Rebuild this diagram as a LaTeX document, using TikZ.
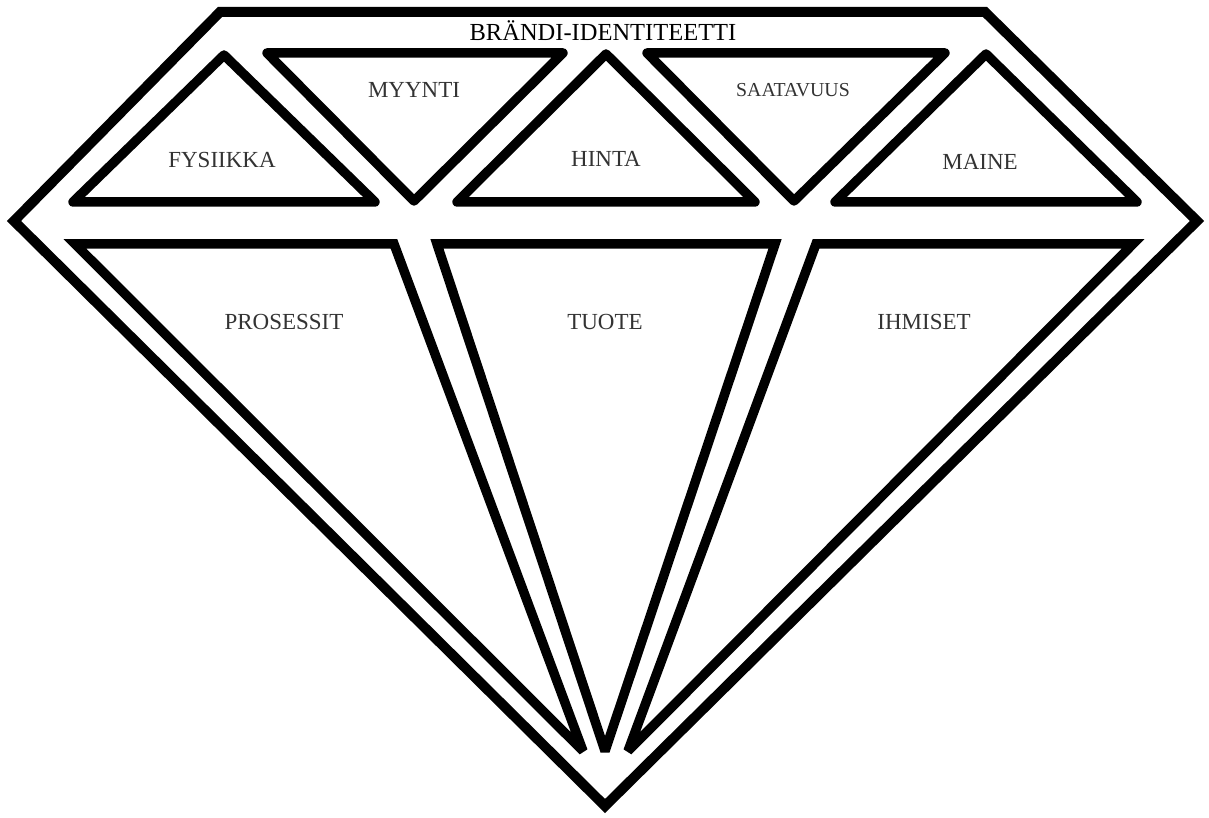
\documentclass[tikz,border=0pt]{standalone}
\usepackage{fontspec}
\setmainfont{Liberation Serif}

\begin{document}
\begin{tikzpicture}[x=1pt, y=-1pt,
    outline/.style={line width=10pt, line join=miter},
    facet/.style={line width=9.5pt, line join=round},
    deepfacet/.style={line width=9.5pt, line join=miter, miter limit=3},
    lbl/.style={font=\fontsize{23}{26}\selectfont, text=black!80, anchor=base, inner sep=0pt},
]
\useasboundingbox (0,0) rectangle (1209,818);

% Outer diamond
\draw[outline] (220,12) -- (985,12) -- (1197,221) -- (605,806) -- (14,221) -- cycle;
\node[lbl, text=black, font=\fontsize{24.5}{28}\selectfont] (brand) at (603,41) {BRÄNDI-IDENTITEETTI};

% --- Crown facets ---
\draw[facet] (224,55) -- (375,202) -- (73,202) -- cycle;
\node[lbl] (fysiikka) at (222,168) {FYSIIKKA};

\draw[facet] (267,53) -- (563,53) -- (414,201) -- cycle;
\node[lbl] (myynti) at (414,98) {MYYNTI};

\draw[facet] (606,54) -- (755,202) -- (457,202) -- cycle;
\node[lbl] (hinta) at (606,167) {HINTA};

\draw[facet] (647,53) -- (945,53) -- (794,201) -- cycle;
\node[lbl, font=\fontsize{19.8}{23}\selectfont] (saatavuus) at (793,97) {SAATAVUUS};

\draw[facet] (986,54) -- (1137,202) -- (835,202) -- cycle;
\node[lbl] (maine) at (980,170) {MAINE};

% --- Pavilion facets ---
\draw[deepfacet] (75,244) -- (394,244) -- (583,751) -- cycle;
\node[lbl] (prosessit) at (284,329) {PROSESSIT};

\draw[deepfacet] (437,244) -- (775,244) -- (605,751) -- cycle;
\node[lbl] (tuote) at (605,329) {TUOTE};

\draw[deepfacet] (816,244) -- (1133,244) -- (628,751) -- cycle;
\node[lbl] (ihmiset) at (924,329) {IHMISET};

\end{tikzpicture}
\end{document}
